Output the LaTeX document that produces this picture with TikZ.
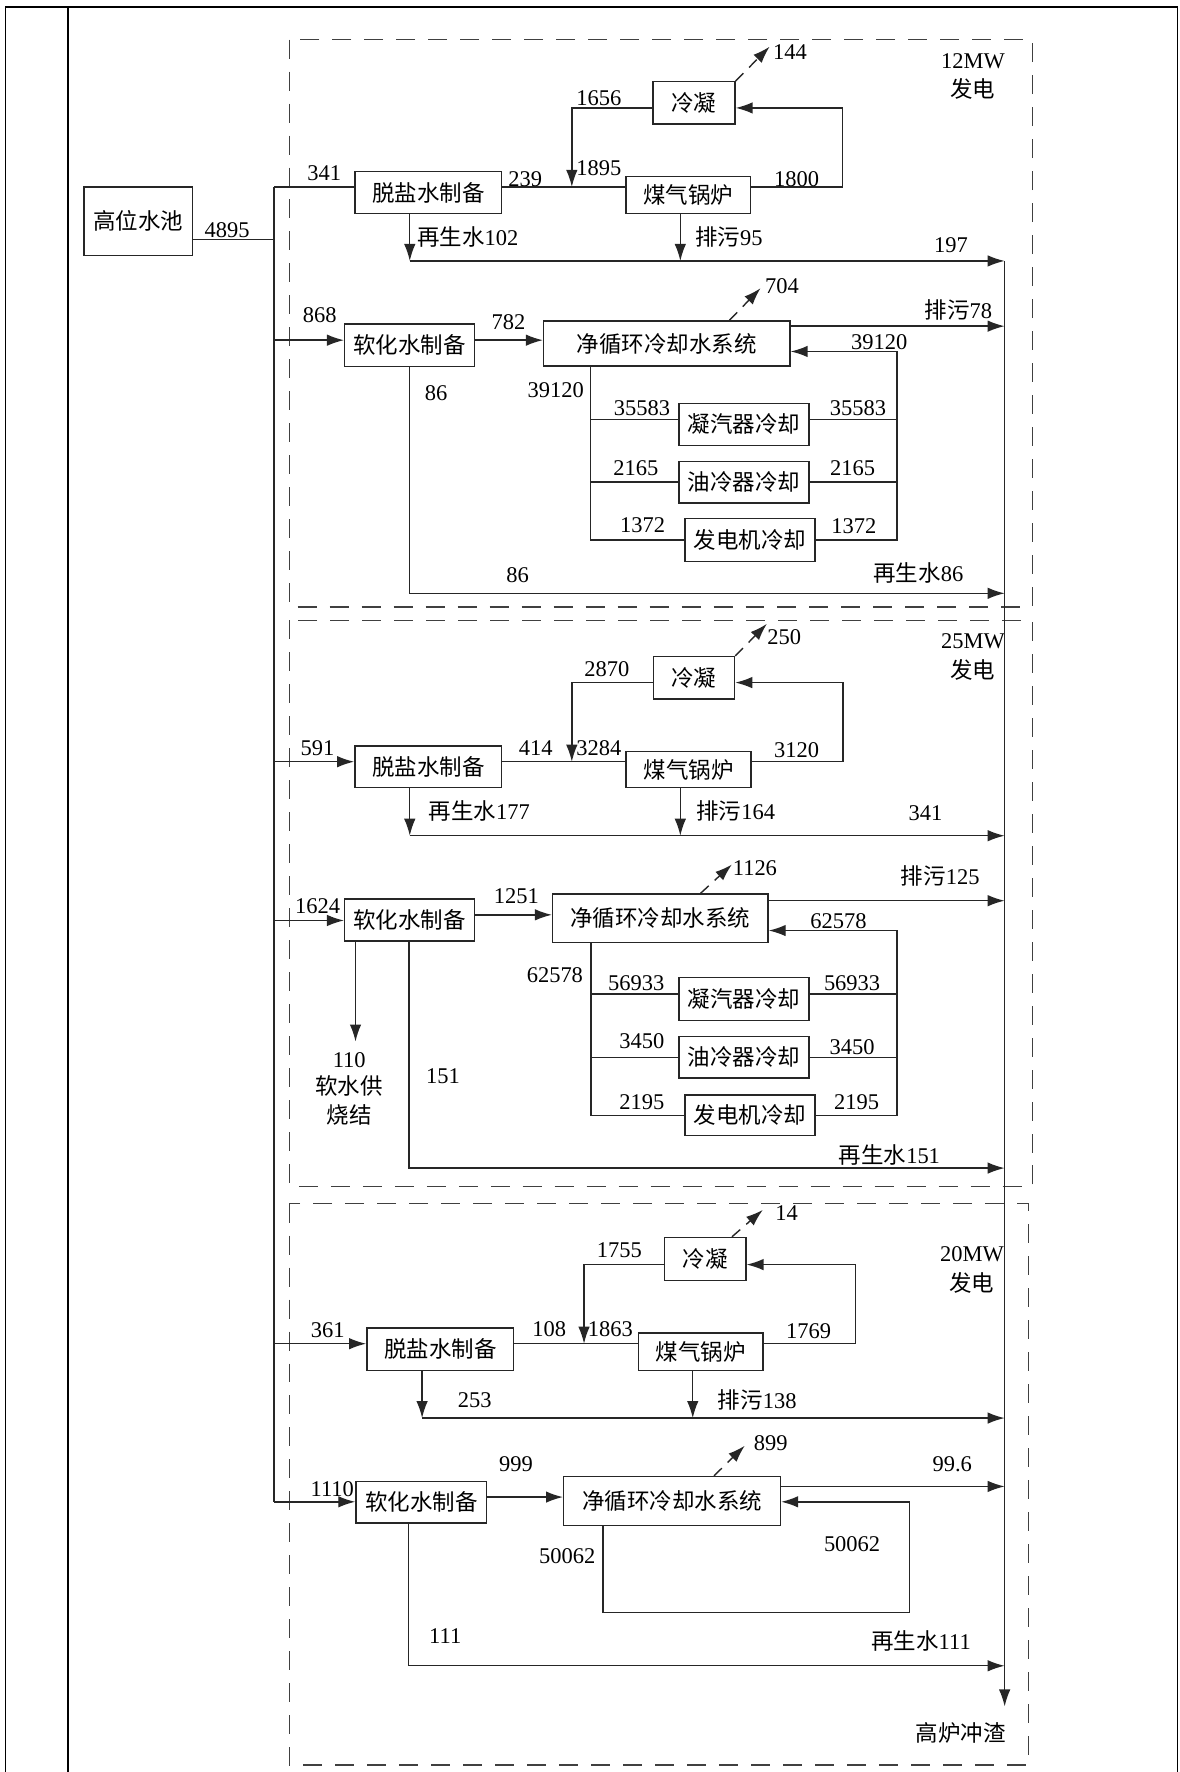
\documentclass[tikz,border=0pt]{standalone}
\usepackage{fontspec}
\setmainfont{Liberation Serif}
\newfontfamily\cjk{Noto Sans CJK SC}
\usetikzlibrary{arrows.meta}
\newcommand\px{0.022606cm}
\tikzset{
  plant/.style 2 args={draw=black!85, line width=0.8pt, minimum width=#1*\px, minimum height=#2*\px, inner sep=0pt, font=\cjk\fontsize{12.8}{15}\selectfont},
  flow/.style={draw=black!85, line width=0.8pt},
  feed/.style={flow, -{Latex[length=3.4mm,width=2.3mm]}},
  vapour/.style={draw=black!85, line width=0.8pt, dash pattern=on 2.2mm off 1.6mm, -{Latex[length=3.4mm,width=2.3mm]}},
  zone/.style={draw=black!75, line width=0.85pt, dash pattern=on 3.8mm off 2.6mm},
  val/.style={inner sep=0pt, font=\fontsize{12.8}{15}\selectfont},
  zh/.style={inner sep=0pt, font=\cjk\fontsize{12.8}{15}\selectfont},
  tableline/.style={draw=black, line width=0.9pt}
}

\begin{document}
\begin{tikzpicture}[x=\px, y=-\px]
\useasboundingbox (0,0) rectangle (1044,1568);
\draw[tableline] (5,1568) -- (5,6) -- (1042,6) -- (1042,1568);
\draw[tableline] (60,6) -- (60,1568);
\draw[zone] (256,35) rectangle (913.5,537);
\draw[zone] (256,549) rectangle (913.5,1050);
\draw[zone] (256,1065) rectangle (910,1562);
\node[val] (mw12) at (861,54.6) {12MW};
\node[zh] (gen12) at (860.6,79) {发电};
\node[val] (mw25) at (861,567.7) {25MW};
\node[zh] (gen25) at (860.6,592.7) {发电};
\node[val] (mw20) at (860,1110) {20MW};
\node[zh] (gen20) at (859.7,1135) {发电};

\node[plant={96}{61}] (pool) at (122.5,195.8) {高位水池};
\coordinate (j0) at (242.5,211.7);
\coordinate (jtop) at (242.5,165.4);
\coordinate (jbot) at (242.5,1328.9);
\draw[flow] (pool.east |- j0) -- (j0);
\draw[flow] (jtop) -- (jbot);
\node[val] (v4895) at (201,203.5) {4895};
\coordinate (kend) at (889,1510);
\node[zh] (slag) at (850,1533) {高炉冲渣};

\node[plant={130}{37}] (ds1) at (379,170.3) {脱盐水制备};
\node[plant={110}{32.4}] (gb1) at (609,172.5) {煤气锅炉};
\node[plant={72.7}{37.4}] (cn1) at (614,91) {冷凝};
\coordinate (m1) at (506,165.4);
\coordinate (cl1) at (506,95.5);
\coordinate (cr1) at (745.5,95.5);
\coordinate (vp1) at (681,41.3);
\coordinate (r1) at (362.6,230.9);
\coordinate (p1) at (602,230.9);
\coordinate (k1) at (889,230.9);
\draw[flow] (jtop) -- (jtop -| ds1.west);
\draw[flow] (ds1.east |- m1) -- (gb1.west |- m1);
\draw[feed] (cn1.west |- cl1) -- (cl1) -- (m1);
\draw[feed] (gb1.east |- m1) -| (cr1) -- (cn1.east |- cr1);
\draw[vapour] (cn1.north east) -- (vp1);
\draw[feed] (ds1.south -| r1) -- (r1);
\draw[feed] (gb1.south -| p1) -- (p1);
\draw[feed] (r1) -- (k1);
\draw[feed] (k1) -- (kend);
\node[val] (v341a) at (287,153) {341};
\node[val] (v239) at (464.7,158.4) {239};
\node[val] (v1656) at (530,87) {1656};
\node[val] (v1895) at (530,148.9) {1895};
\node[val] (v1800) at (705,158.4) {1800};
\node[val] (v144) at (699,45.7) {144};
\node[val] (v102) at (414,210) {{\cjk 再生水}102};
\node[val] (v95) at (645,210) {{\cjk 排污}95};
\node[val] (v197) at (841.6,216.8) {197};

\node[plant={115}{37.8}] (rh1) at (362.5,305.5) {软化水制备};
\node[plant={218}{40}] (jx1) at (590,304) {净循环冷却水系统};
\node[plant={115}{37}] (nq1) at (658.5,375.5) {凝汽器冷却};
\node[plant={115}{36.5}] (yl1) at (658.5,426.8) {油冷器冷却};
\node[plant={115}{38}] (fd1) at (663.5,478) {发电机冷却};
\coordinate (j1) at (242.5,301);
\coordinate (k2) at (889,288.6);
\coordinate (q1) at (793.6,311);
\coordinate (a1) at (522.6,371);
\coordinate (b1) at (522.6,426.6);
\coordinate (s1) at (522.6,478);
\coordinate (vp2) at (673,255);
\coordinate (w1) at (362.5,525);
\coordinate (k3) at (889,525);
\draw[feed] (j1) -- (j1 -| rh1.west);
\draw[feed] (rh1.east |- j1) -- (jx1.west |- j1);
\draw[vapour] ([xshift=55.5*\px]jx1.north) -- (vp2);
\draw[feed] (jx1.east |- k2) -- (k2);
\draw[flow] (jx1.south -| s1) -- (s1) -- (fd1.west |- s1);
\draw[flow] (a1) -- (nq1.west |- a1);
\draw[flow] (b1) -- (yl1.west |- b1);
\draw[flow] (nq1.east |- a1) -- (a1 -| q1);
\draw[flow] (yl1.east |- b1) -- (b1 -| q1);
\draw[feed] (fd1.east |- s1) -| (q1) -- (jx1.east |- q1);
\draw[feed] (rh1.south -| w1) -- (w1) -- (k3);
\node[val] (v868) at (283,279) {868};
\node[val] (v782) at (450,285) {782};
\node[val] (v704) at (692,253.6) {704};
\node[val] (v78) at (848,274.3) {{\cjk 排污}78};
\node[val] (v39120r) at (778,302.3) {39120};
\node[val] (v39120l) at (491.7,345) {39120};
\node[val] (v35583l) at (568,361.3) {35583};
\node[val] (v35583r) at (759.3,361) {35583};
\node[val] (v2165l) at (562.6,414.3) {2165};
\node[val] (v2165r) at (754.5,414) {2165};
\node[val] (v1372l) at (568.6,464.5) {1372};
\node[val] (v1372r) at (755.5,466) {1372};
\node[val] (v86a) at (386,348) {86};
\node[val] (v86b) at (458,508.7) {86};
\node[val] (v86c) at (812.6,507.2) {{\cjk 再生水}86};

\node[plant={130}{37}] (ds2) at (379,678.5) {脱盐水制备};
\node[plant={110.6}{32}] (gb2) at (609.3,681) {煤气锅炉};
\node[plant={72}{37.5}] (cn2) at (614,599.8) {冷凝};
\coordinate (j2) at (242.5,674);
\coordinate (m2) at (506,674);
\coordinate (cl2) at (506,604);
\coordinate (cr2) at (746,604);
\coordinate (vp3) at (678.6,552);
\coordinate (r2) at (362.6,739.5);
\coordinate (p2) at (602,739.5);
\coordinate (k4) at (889,739.5);
\draw[feed] (j2) -- (j2 -| ds2.west);
\draw[flow] (ds2.east |- m2) -- (gb2.west |- m2);
\draw[feed] (cn2.west |- cl2) -- (cl2) -- (m2);
\draw[feed] (gb2.east |- m2) -| (cr2) -- (cn2.east |- cr2);
\draw[vapour] (cn2.north east) -- (vp3);
\draw[feed] (ds2.south -| r2) -- (r2);
\draw[feed] (gb2.south -| p2) -- (p2);
\draw[feed] (r2) -- (k4);
\node[val] (v591) at (281,662) {591};
\node[val] (v414) at (474,662) {414};
\node[val] (v3284) at (530,662) {3284};
\node[val] (v2870) at (537,592) {2870};
\node[val] (v3120) at (705,663.6) {3120};
\node[val] (v250) at (694,563.6) {250};
\node[val] (v177) at (424,718) {{\cjk 再生水}177};
\node[val] (v164) at (651,718) {{\cjk 排污}164};
\node[val] (v341b) at (819,719.5) {341};

\node[plant={115}{37}] (rh2) at (362.5,814) {软化水制备};
\node[plant={190.6}{43}] (jx2) at (584.3,812.5) {净循环冷却水系统};
\node[plant={115}{38}] (nq2) at (658.5,884) {凝汽器冷却};
\node[plant={115}{37}] (yl2) at (658.5,935.5) {油冷器冷却};
\node[plant={115}{36}] (fd2) at (663.5,987) {发电机冷却};
\coordinate (j3) at (242.5,814.5);
\coordinate (n2) at (242.5,809.5);
\coordinate (k5) at (889,797);
\coordinate (q2) at (793.6,823.4);
\coordinate (a2) at (523,879.7);
\coordinate (b2) at (523,935.7);
\coordinate (s2) at (523,987);
\coordinate (vp4) at (647.6,765);
\coordinate (sj) at (314.6,921.6);
\coordinate (w2) at (362,1033.6);
\coordinate (k6) at (889,1033.6);
\draw[feed] (j3) -- (j3 -| rh2.west);
\draw[feed] (rh2.east |- n2) -- (jx2.west |- n2);
\draw[vapour] ([xshift=35.7*\px]jx2.north) -- (vp4);
\draw[feed] (jx2.east |- k5) -- (k5);
\draw[flow] (jx2.south -| s2) -- (s2) -- (fd2.west |- s2);
\draw[flow] (a2) -- (nq2.west |- a2);
\draw[flow] (b2) -- (yl2.west |- b2);
\draw[flow] (nq2.east |- a2) -- (a2 -| q2);
\draw[flow] (yl2.east |- b2) -- (b2 -| q2);
\draw[feed] (fd2.east |- s2) -| (q2) -- (jx2.east |- q2);
\draw[feed] (rh2.south -| sj) -- (sj);
\draw[feed] (rh2.south -| w2) -- (w2) -- (k6);
\node[val] (v1624) at (281,802) {1624};
\node[val] (v1251) at (457,793) {1251};
\node[val] (v1126) at (668,768) {1126};
\node[val] (v125) at (832,775) {{\cjk 排污}125};
\node[val] (v62578r) at (742,815) {62578};
\node[val] (v62578l) at (491,862.6) {62578};
\node[val] (v56933l) at (563,870) {56933};
\node[val] (v56933r) at (754,870) {56933};
\node[val] (v3450l) at (568,921) {3450};
\node[val] (v3450r) at (754,927) {3450};
\node[val] (v2195l) at (568,975) {2195};
\node[val] (v2195r) at (758,975) {2195};
\node[val] (v110) at (309,938) {110};
\node[zh] (sj1) at (309,961) {软水供};
\node[zh] (sj2) at (309,986.6) {烧结};
\node[val] (v151a) at (392,952.6) {151};
\node[val] (v151b) at (787,1022) {{\cjk 再生水}151};

\node[plant={130}{37.7}] (ds3) at (389.6,1193.9) {脱盐水制备};
\node[plant={110}{33}] (gb3) at (620,1196) {煤气锅炉};
\node[plant={72}{38}] (cn3) at (624,1114) {冷凝};
\coordinate (j4) at (242.5,1189);
\coordinate (m3) at (516.8,1189);
\coordinate (cl3) at (516.8,1119);
\coordinate (cr3) at (757,1119);
\coordinate (vp5) at (675,1070.6);
\coordinate (r3) at (373.5,1254.8);
\coordinate (p3) at (613,1254.8);
\coordinate (k7) at (889,1254.8);
\draw[feed] (j4) -- (j4 -| ds3.west);
\draw[flow] (ds3.east |- m3) -- (gb3.west |- m3);
\draw[feed] (cn3.west |- cl3) -- (cl3) -- (m3);
\draw[feed] (gb3.east |- m3) -| (cr3) -- (cn3.east |- cr3);
\draw[vapour] ([xshift=23.7*\px]cn3.north) -- (vp5);
\draw[feed] (ds3.south -| r3) -- (r3);
\draw[feed] (gb3.south -| p3) -- (p3);
\draw[feed] (r3) -- (k7);
\node[val] (v361) at (290,1176.7) {361};
\node[val] (v108) at (486,1176) {108};
\node[val] (v1863) at (540,1176) {1863};
\node[val] (v1755) at (548,1106.5) {1755};
\node[val] (v1769) at (715.6,1178) {1769};
\node[val] (v14) at (696,1073) {14};
\node[val] (v253) at (420,1238.6) {253};
\node[val] (v138) at (670,1238.6) {{\cjk 排污}138};

\node[plant={115.6}{36.8}] (rh3) at (372.8,1329.2) {软化水制备};
\node[plant={191.8}{43.3}] (jx3) at (594.7,1328.2) {净循环冷却水系统};
\coordinate (n3) at (242.5,1324.7);
\coordinate (k8) at (889,1315.3);
\coordinate (lp1) at (533.5,1426.8);
\coordinate (lp2) at (804.8,1328.9);
\coordinate (vp6) at (659,1279.3);
\coordinate (w3) at (361.6,1474);
\coordinate (k9) at (889,1474);
\draw[feed] (jbot) -- (jbot -| rh3.west);
\draw[feed] (rh3.east |- n3) -- (jx3.west |- n3);
\draw[vapour] ([xshift=37.1*\px]jx3.north) -- (vp6);
\draw[feed] (jx3.east |- k8) -- (k8);
\draw[feed] (jx3.south -| lp1) -- (lp1) -| (lp2) -- (jx3.east |- lp2);
\draw[feed] (rh3.south -| w3) -- (w3) -- (k9);
\node[val] (v1110) at (294,1317.6) {1110};
\node[val] (v999) at (456.6,1296) {999};
\node[val] (v899) at (682,1277) {899};
\node[val] (v996) at (842.6,1296) {99.6};
\node[val] (v50062l) at (502,1377) {50062};
\node[val] (v50062r) at (754,1366) {50062};
\node[val] (v111a) at (394,1448) {111};
\node[val] (v111b) at (815,1452.4) {{\cjk 再生水}111};
\end{tikzpicture}
\end{document}
